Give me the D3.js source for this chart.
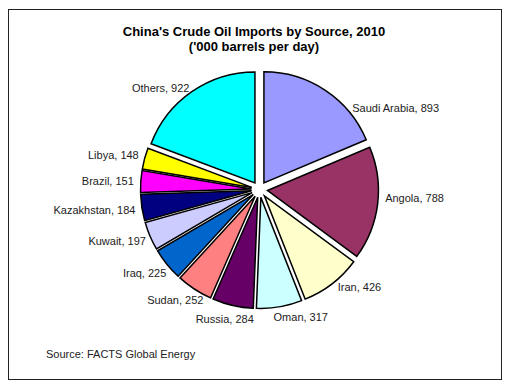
<!DOCTYPE html>
<html>
<head>
<meta charset="utf-8">
<script src="https://cdn.jsdelivr.net/npm/d3@7"></script>
<style>
  body { margin: 0; background: #fff; }
  text { font-family: "Liberation Sans", Arial, sans-serif; }
</style>
</head>
<body>
<div id="chart"></div>
<script>
let sources = ["Saudi Arabia", "Angola", "Iran", "Oman", "Russia", "Sudan", "Iraq", "Kuwait", "Kazakhstan", "Brazil", "Libya", "Others"];
let imports = [893, 788, 426, 317, 284, 252, 225, 197, 184, 151, 148, 922];
let colours = ["#9999FF", "#993366", "#FFFFCC", "#CCFFFF", "#660066", "#FF8080", "#0066CC", "#CCCCFF", "#000080", "#FF00FF", "#FFFF00", "#00FFFF"];

let w = 510, h = 390;
let cx = 259.5, cy = 189.5;
let r = 111;
let explode = 8;

// labels that were dragged away from their default spot in the original (degrees)
let labelNudge = {"Saudi Arabia": 19, "Angola": -3, "Iran": -5, "Others": -5, "Oman": -6};

let svg = d3.select("#chart")
  .append("svg")
  .attr("width", w)
  .attr("height", h);

svg.append("rect")
  .attr("x", 8.5)
  .attr("y", 9.5)
  .attr("width", 493)
  .attr("height", 370)
  .attr("fill", "#fff")
  .attr("stroke", "#222")
  .attr("stroke-width", 1);

let title = svg.append("text")
  .attr("x", 254)
  .attr("y", 36)
  .attr("text-anchor", "middle")
  .attr("font-size", "13px")
  .attr("font-weight", "bold")
  .attr("fill", "#000");
title.append("tspan").attr("x", 254).attr("dy", 0).text("China's Crude Oil Imports by Source, 2010");
title.append("tspan").attr("x", 254).attr("dy", 14.5).text("('000 barrels per day)");

let data = sources.map((s, i) => ({name: s, value: imports[i], colour: colours[i]}));

let pie = d3.pie()
  .sort(null)
  .value((d) => d.value);

let arc = d3.arc()
  .innerRadius(0)
  .outerRadius(r);

let arcs = pie(data);

let g = svg.append("g")
  .attr("transform", "translate(" + cx + "," + cy + ")");

g.selectAll("path")
  .data(arcs)
  .enter().append("path")
  .attr("d", arc)
  .attr("transform", (d) => {
    let a = (d.startAngle + d.endAngle) / 2;
    return "translate(" + (explode * Math.sin(a)) + "," + (-explode * Math.cos(a)) + ")";
  })
  .attr("fill", (d) => d.data.colour)
  .attr("stroke", "#000")
  .attr("stroke-width", 1.5)
  .attr("stroke-linejoin", "miter");

// labels: box edge touches the point on the bisector just outside the slice
let labelR = r + explode + 7;
let lh = 13;

g.selectAll("text.lbl")
  .data(arcs)
  .enter().append("text")
  .attr("class", "lbl")
  .attr("font-size", "11px")
  .attr("fill", "#222")
  .text((d) => d.data.name + ", " + d.data.value)
  .each(function(d) {
    let a = (d.startAngle + d.endAngle) / 2 + (labelNudge[d.data.name] || 0) * Math.PI / 180;
    let bw = this.getComputedTextLength();
    let rr = d.data.name == "Saudi Arabia" ? labelR + 2 : labelR;
    let px = rr * Math.sin(a);
    let py = -rr * Math.cos(a);
    let bx = px + (bw / 2) * Math.sin(a);
    let by = py - (lh / 2) * Math.cos(a);
    d3.select(this)
      .attr("x", bx)
      .attr("y", by + 4)
      .attr("text-anchor", "middle");
  });

svg.append("text")
  .attr("x", 46)
  .attr("y", 358)
  .attr("font-size", "11px")
  .attr("fill", "#222")
  .text("Source: FACTS Global Energy");
</script>
</body>
</html>
